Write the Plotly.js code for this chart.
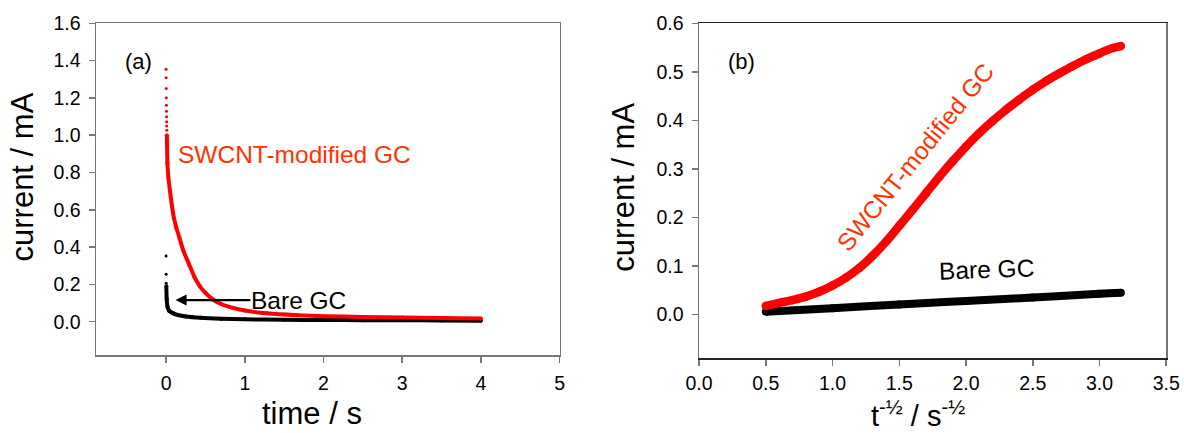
<!DOCTYPE html>
<html>
<head>
<meta charset="utf-8">
<script src="https://cdn.plot.ly/plotly-3.0.1.min.js"></script>
<style>html,body{margin:0;padding:0;background:#fff;}#chart{width:1184px;height:433px;}</style>
</head>
<body>
<div id="chart"></div>
<script>
// ---------- Panel (a): current vs time ----------
const tA_redDots = [0.000, 0.001, 0.002, 0.003, 0.004, 0.005, 0.006, 0.007, 0.008, 0.009];
const iA_redDots = [1.354, 1.308, 1.251, 1.201, 1.161, 1.129, 1.099, 1.072, 1.049, 1.027];
const tA_red = [0.010, 0.017, 0.030, 0.050, 0.075, 0.100, 0.130, 0.170, 0.220, 0.290, 0.360, 0.430, 0.500, 0.600, 0.700, 0.850, 1.000, 1.280, 1.660, 2.000, 2.500, 3.000, 3.500, 4.000];
const iA_red = [1.000, 0.850, 0.770, 0.700, 0.620, 0.555, 0.505, 0.449, 0.380, 0.310, 0.240, 0.190, 0.155, 0.118, 0.095, 0.074, 0.060, 0.045, 0.035, 0.030, 0.026, 0.023, 0.020, 0.017];
const tA_blackDots = [0.000, 0.001, 0.002];
const iA_blackDots = [0.352, 0.254, 0.206];
const tA_black = [0.003, 0.008, 0.018, 0.040, 0.090, 0.150, 0.250, 0.440, 0.700, 1.000, 1.500, 2.000, 2.500, 3.000, 3.500, 4.000];
const iA_black = [0.190, 0.120, 0.080, 0.058, 0.045, 0.036, 0.028, 0.021, 0.016, 0.013, 0.011, 0.009, 0.0085, 0.008, 0.007, 0.006];

// ---------- Panel (b): current vs t^-1/2 ----------
const xB_red = [0.50, 0.60, 0.70, 0.80, 0.90, 1.00, 1.10, 1.20, 1.30, 1.40, 1.50, 1.60, 1.70, 1.80, 1.90, 2.00, 2.10, 2.20, 2.30, 2.40, 2.50, 2.60, 2.70, 2.80, 2.90, 3.00, 3.10, 3.16];
const yB_red = [0.018, 0.024, 0.030, 0.037, 0.047, 0.060, 0.076, 0.096, 0.121, 0.150, 0.183, 0.216, 0.250, 0.284, 0.316, 0.346, 0.374, 0.399, 0.422, 0.443, 0.463, 0.481, 0.497, 0.512, 0.526, 0.538, 0.549, 0.553];
const xB_black = [0.50, 1.00, 1.50, 2.00, 2.50, 3.00, 3.16];
const yB_black = [0.006, 0.013, 0.021, 0.028, 0.035, 0.043, 0.045];

// ---------- ticks ----------
const xTicksA = [0, 1, 2, 3, 4, 5];
const yTicksA = [0, 0.2, 0.4, 0.6, 0.8, 1.0, 1.2, 1.4, 1.6];
const xTicksB = [0, 0.5, 1.0, 1.5, 2.0, 2.5, 3.0, 3.5];
const yTicksB = [0, 0.1, 0.2, 0.3, 0.4, 0.5, 0.6];

const RED = '#ff0000';
const LABEL_RED = '#ff3300';
const FONT = 'Liberation Sans, Arial, sans-serif';

const traces = [
  {x: tA_black, y: iA_black, xaxis: 'x', yaxis: 'y', mode: 'lines+markers', line: {color: '#000', width: 4, shape: 'spline', smoothing: 0.6}, marker: {color: '#000', size: 4}},
  {x: tA_blackDots, y: iA_blackDots, xaxis: 'x', yaxis: 'y', mode: 'markers', marker: {color: '#000', size: 3}},
  {x: tA_red, y: iA_red, xaxis: 'x', yaxis: 'y', mode: 'lines+markers', line: {color: RED, width: 4, shape: 'spline', smoothing: 0.6}, marker: {color: RED, size: 4}},
  {x: tA_redDots, y: iA_redDots, xaxis: 'x', yaxis: 'y', mode: 'markers', marker: {color: RED, size: 3}},
  {x: xB_black, y: yB_black, xaxis: 'x2', yaxis: 'y2', mode: 'lines+markers', line: {color: '#000', width: 8, shape: 'spline'}, marker: {color: '#000', size: 8}},
  {x: xB_red, y: yB_red, xaxis: 'x2', yaxis: 'y2', mode: 'lines+markers', line: {color: RED, width: 8.5, shape: 'spline'}, marker: {color: RED, size: 8.5}}
];

function axis(extra) {
  return Object.assign({
    showgrid: false, zeroline: false, showline: true, mirror: true,
    linecolor: '#777', linewidth: 1.5,
    ticks: 'outside', ticklen: 6, tickwidth: 1.5, tickcolor: '#777',
    ticklabelstandoff: 4,
    tickfont: {family: FONT, size: 19.5, color: '#000'},
    tickmode: 'array', fixedrange: true
  }, extra);
}

const layout = {
  width: 1184, height: 433,
  margin: {l: 0, r: 0, t: 0, b: 0},
  paper_bgcolor: '#fff', plot_bgcolor: '#fff',
  showlegend: false,
  font: {family: FONT, color: '#000'},
  xaxis: axis({domain: [0.0811, 0.4727], range: [-0.89, 5], tickvals: xTicksA, ticktext: xTicksA.map(String), anchor: 'y'}),
  yaxis: axis({domain: [0.1794, 0.9462], range: [-0.18, 1.6], tickvals: yTicksA, ticktext: yTicksA.map(v => v.toFixed(1)), anchor: 'x'}),
  xaxis2: axis({domain: [0.5904, 0.9850], range: [0, 3.5], tickvals: xTicksB, ticktext: xTicksB.map(v => v.toFixed(1)), anchor: 'y2', linecolor: '#222', ticklabelstandoff: 1}),
  yaxis2: axis({domain: [0.1725, 0.9462], range: [-0.09, 0.6], tickvals: yTicksB, ticktext: yTicksB.map(v => v.toFixed(1)), anchor: 'x2'}),
  annotations: [
    // axis titles
    {xref: 'paper', yref: 'paper', x: 311.7/1184, y: 0, text: 'time / s', showarrow: false, font: {family: FONT, size: 31}, xanchor: 'center', yanchor: 'bottom'},
    {xref: 'paper', yref: 'paper', x: 22/1184, y: 1 - 177.5/433, text: 'current / mA', textangle: -90, showarrow: false, font: {family: FONT, size: 31}, xanchor: 'center', yanchor: 'middle'},
    {xref: 'paper', yref: 'paper', x: 918/1184, y: 0, text: 't<sup>-½</sup> / s<sup>-½</sup>', showarrow: false, font: {family: FONT, size: 29}, xanchor: 'center', yanchor: 'bottom', borderpad: 0},
    {xref: 'paper', yref: 'paper', x: 624/1184, y: 1 - 186.7/433, text: 'current / mA', textangle: -90, showarrow: false, font: {family: FONT, size: 31}, xanchor: 'center', yanchor: 'middle'},
    // panel labels
    {xref: 'x', yref: 'y', x: -0.347, y: 1.393, text: '(a)', showarrow: false, font: {family: FONT, size: 22}},
    {xref: 'x2', yref: 'y2', x: 0.32, y: 0.522, text: '(b)', showarrow: false, font: {family: FONT, size: 22}},
    // series labels panel a
    {xref: 'x', yref: 'y', x: 1.632, y: 0.899, text: 'SWCNT-modified GC', showarrow: false, font: {family: FONT, size: 24.5, color: LABEL_RED}},
    {xref: 'x', yref: 'y', axref: 'x', ayref: 'y', x: 0.12, y: 0.116, ax: 1.68, ay: 0.116, text: 'Bare GC', showarrow: true, arrowhead: 2, arrowsize: 1, arrowwidth: 2.2, arrowcolor: '#000', standoff: 0, borderpad: 0, font: {family: FONT, size: 24.5, color: '#000'}},
    // series labels panel b
    {xref: 'x2', yref: 'y2', x: 1.618, y: 0.324, text: 'SWCNT-modified GC', textangle: -51, showarrow: false, font: {family: FONT, size: 24.5, color: LABEL_RED}},
    {xref: 'x2', yref: 'y2', x: 2.15, y: 0.092, text: 'Bare GC', textangle: -2, showarrow: false, font: {family: FONT, size: 24.5, color: '#000'}}
  ]
};

Plotly.newPlot('chart', traces, layout, {displayModeBar: false, staticPlot: true});
</script>
</body>
</html>
